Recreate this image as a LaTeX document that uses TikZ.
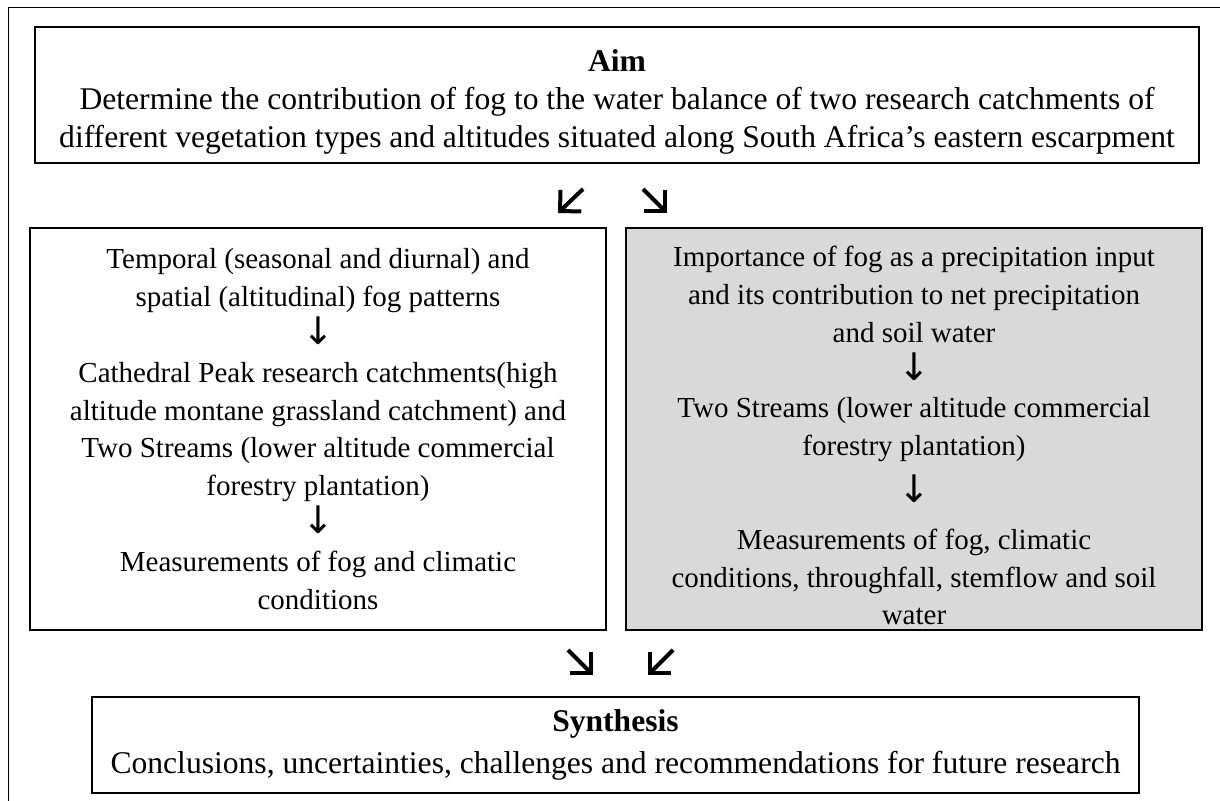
\documentclass[tikz,border=0pt]{standalone}
\usepackage{fontspec}
\setmainfont{Liberation Serif}
\newfontfamily\arrowfont{DejaVu Sans}
\usepackage{tikz}
\usetikzlibrary{arrows.meta,positioning}
\definecolor{boxgray}{RGB}{217,217,217}
\newcommand{\downarr}{{\arrowfont\fontsize{19}{18.9}\selectfont ↓}}

\begin{document}
\begin{tikzpicture}[x=0.5pt,y=-0.5pt, font=\fontsize{15.8}{19.2}\selectfont,
 box/.style={draw,line width=0.6pt,align=center,inner sep=0pt},
 col/.style={box,font=\fontsize{14.5}{18.9}\selectfont,minimum width=288pt,minimum height=201pt},
 arr/.style={-{Straight Barb[length=7.5pt,width=15pt]},line width=2pt}]
\useasboundingbox (0,0) rectangle (1220,801);
\draw[line width=0.5pt] (8,801) -- (8,8) -- (1220,8);
\node[box,minimum width=582pt,minimum height=68pt] (aim) at (617,95) {\rule{0pt}{18pt}\textbf{Aim}\\Determine the contribution of fog to the water balance of two research catchments of\\different vegetation types and altitudes situated along South Africa’s eastern escarpment};
\node[col] (temporal) at (318,429) {Temporal (seasonal and diurnal) and\\spatial (altitudinal) fog patterns\\\downarr\\Cathedral Peak research catchments(high\\altitude montane grassland catchment) and\\Two Streams (lower altitude commercial\\forestry plantation)\\\downarr\\Measurements of fog and climatic\\conditions};
\node[col,fill=boxgray] (importance) at (914,429) {\rule{0pt}{17pt}Importance of fog as a precipitation input\\and its contribution to net precipitation\\and soil water\\\downarr\\Two Streams (lower altitude commercial\\forestry plantation)\\[4.5pt]\downarr\\[4.5pt]Measurements of fog, climatic\\conditions, throughfall, stemflow and soil\\water};
\node[box,minimum width=523.5pt,minimum height=48pt] (synth) at (615.5,745) {\textbf{Synthesis}\\[2pt]Conclusions, uncertainties, challenges and recommendations for future research};
\coordinate (aimL) at (583,189); \coordinate (tempT) at (558,213);
\coordinate (aimR) at (643,189); \coordinate (impT) at (667,213);
\coordinate (tempB) at (568,650); \coordinate (synL) at (593,675);
\coordinate (impB) at (673,650); \coordinate (synR) at (648,675);
\draw[arr] (aimL)--(tempT); \draw[arr] (aimR)--(impT);
\draw[arr] (tempB)--(synL); \draw[arr] (impB)--(synR);
\end{tikzpicture}
\end{document}
